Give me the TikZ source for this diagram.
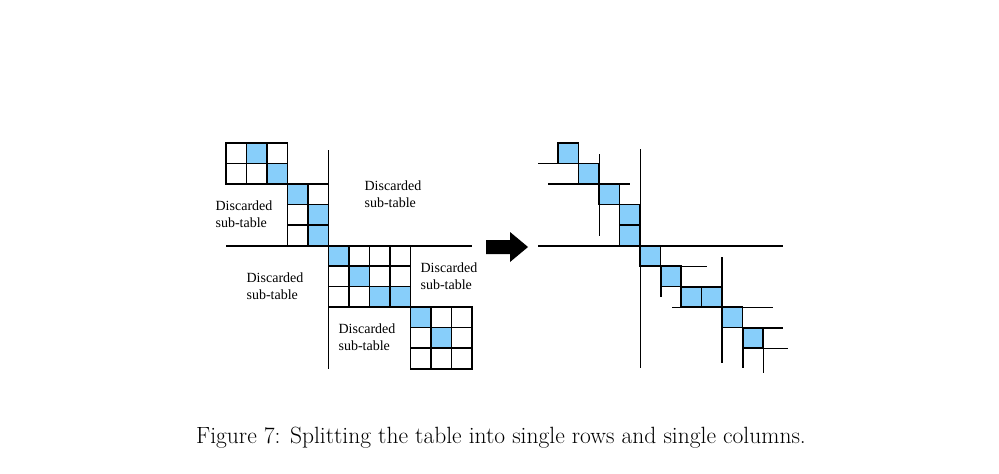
\documentclass[tikz,border=0pt]{standalone}
\usepackage{fontspec}
\newfontfamily\tms{Liberation Serif}
\definecolor{cellblue}{RGB}{135,206,250}
\begin{document}
\begin{tikzpicture}[x=1pt,y=-1pt,
  cell/.style={draw=black,line width=1.2pt},
  blue/.style={cell,fill=cellblue},
  ln/.style={line width=1.5pt},
  lab/.style={font=\tms\fontsize{14}{17}\selectfont,align=left}]
\useasboundingbox[fill=white] (0,0) rectangle (999,474);
\def\s{20.5}
% left grid cells
\foreach \i/\j in {0/0,2/0,0/1,1/1, 4/2,3/3,3/4, 6/5,7/5,8/5,5/6,7/6,8/6,5/7,6/7, 10/8,11/8,9/9,11/9,9/10,10/10,11/10}
  \draw[cell] ({226+\i*\s},{143+\j*\s}) rectangle ++(\s,\s);
\foreach \i/\j in {1/0,2/1,3/2,4/3,4/4,5/5,6/6,7/7,8/7,9/8,10/9}{
  \draw[blue] ({226+\i*\s},{143+\j*\s}) rectangle ++(\s,\s);
  \draw[blue] ({537.5+\i*\s},{143+\j*\s}) rectangle ++(\s,\s);}
% left block outlines
\draw[ln] (226,143) rectangle (287.5,184);
\draw[ln] (287.5,184.5) rectangle (328.5,246);
\draw[ln] (328.5,246) rectangle (410.5,307.5);
\draw[ln] (410.5,307.5) rectangle (472,369);
% left lines
\coordinate (v1a) at (328.5,150); \coordinate (v1b) at (328.5,369);
\coordinate (h1a) at (226,246); \coordinate (h1b) at (472,246);
\draw[ln] (v1a) -- (v1b);
\draw[ln] (h1a) -- (h1b);
\draw[ln] (330,307.5) -- (410.5,307.5);
% labels
\node[lab] (l1) at (393,194) {Discarded\\sub-table};
\node[lab] (l2) at (244,214) {Discarded\\sub-table};
\node[lab] (l3) at (275,286) {Discarded\\sub-table};
\node[lab] (l4) at (449,276) {Discarded\\sub-table};
\node[lab] (l5) at (367,337) {Discarded\\sub-table};
% arrow
\fill (486,240) -- (510,240) -- (510,232) -- (528,247) -- (510,262) -- (510,254) -- (486,254) -- cycle;
% right lines
\draw[ln] (538,163.3) -- (579,163.3);
\draw[ln] (599.5,154) -- (599.5,236);
\draw[ln] (548,184) -- (630,184);
\draw[ln] (640.5,149) -- (640.5,368);
\draw[ln] (538,246) -- (783,246);
\draw[ln] (661,266.5) -- (707,266.5);
\draw[ln] (661,266.5) -- (661,297);
\draw[ln] (722,257) -- (722,363);
\draw[ln] (682,287) -- (722,287);
\draw[ln] (672,307.5) -- (773,307.5);
\draw[ln] (743,328) -- (783,328);
\draw[ln] (743,328) -- (743,368);
\draw[ln] (743,348.5) -- (788,348.5);
\draw[ln] (763.5,348.5) -- (763.5,373);
\node[font=\fontsize{23.5}{28}\selectfont] (cap) at (501,438) {Figure 7: Splitting the table into single rows and single columns.};
\end{tikzpicture}
\end{document}
